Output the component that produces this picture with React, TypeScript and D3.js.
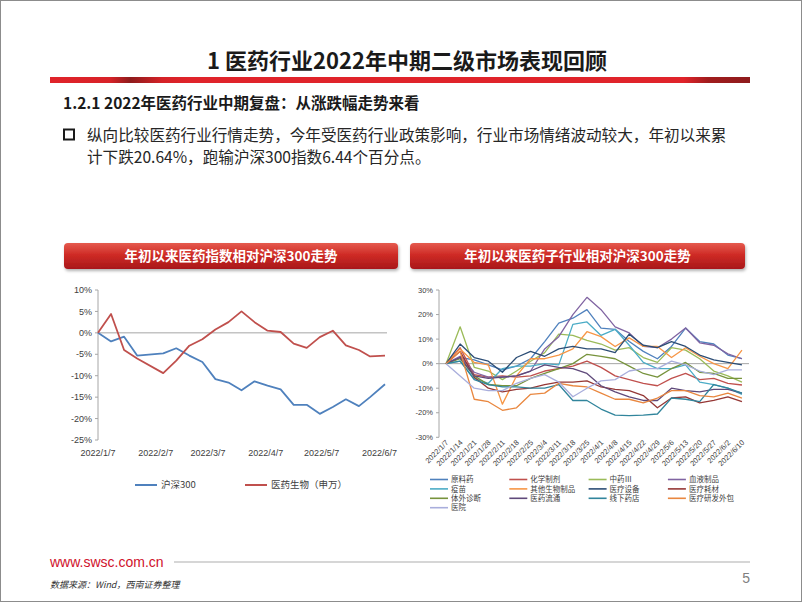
import React from "react";
import * as d3 from "d3";

// weekly dates (no 2/4 week, CNY)
const weeks = [
  "2022/1/7", "2022/1/14", "2022/1/21", "2022/1/28", "2022/2/11", "2022/2/18",
  "2022/2/25", "2022/3/4", "2022/3/11", "2022/3/18", "2022/3/25", "2022/4/1",
  "2022/4/8", "2022/4/15", "2022/4/22", "2022/4/29", "2022/5/6", "2022/5/13",
  "2022/5/20", "2022/5/27", "2022/6/2", "2022/6/10",
];
const leftTicks = ["2022/1/7", "2022/2/7", "2022/3/7", "2022/4/7", "2022/5/7", "2022/6/7"];

// left chart
const hs300 = [0, -2, -0.9, -5.3, -4.8, -3.6, -5.3, -6.8, -10.8, -11.6, -13.4, -11.3, -12.3, -13.2, -16.8, -16.8, -18.9, -17.3, -15.5, -17.1, -15, -12];
const yiyaoSW = [0, 4.4, -4, -6, -9.4, -6.5, -3, -1.5, 0.8, 2.5, 5, 2.5, 0.5, 0.2, -2.5, -3.5, -1, 0.5, -2.9, -4, -5.5, -5.3];

// right chart, sub-industries
const yuanliaoyao = [0, 2.5, 1.5, -0.5, -2.5, -1, 2, 9, 16.5, 18.5, 22, 14.5, 14, 9, 5, 2, 7, 14.5, 9, 8, 3.5, 2];
const huaxuezhiji = [0, 6.5, -4.5, -5.5, -5, -5.5, -5, -3, -2, -1, 1, -1.5, -5, -6.5, -8, -9, -6, -4, -6.5, -6, -8, -8.7];
const zhongyao = [0, 15, -1.5, -3, -6.5, -3, 1, 4.5, 12, 11.5, 9.5, 8, 5.5, 6.5, 2.5, 0.5, 6.5, 5.5, 2, -3, -5, -7.5];
const xueye = [0, 3, -3.5, -5.5, -5.5, -5, -3, 6, 11, 20, 27, 22, 15, 12.5, 7, 6.5, 10, 14.5, 8.5, 7.5, 4, 2];
const yimiao = [0, 1, -6, -8, -2, -1, -1, 0, -0.5, 16, 17, 11.5, 14, 7.5, 0.5, -2, -2, -0.5, -7.5, -8.5, -10, -12.5];
const qitashengwu = [0, 6, 0.5, -0.5, -16.5, -5, 2, 2, 3.5, 6, 13, 11, 7, 10.5, 7, 7, 2.5, 6.5, 3, 0, -2, 5.5];
const shebei = [0, 8, 2.5, 1, -3.5, 2.5, 5, 3, 6, 7, 6, 6, 4.5, 12, 7.5, 6.5, 9, 7, 3.5, 1.5, 0.5, -0.5];
const haocai = [0, 5, -5.5, -10, -11.5, -10.5, -10, -8.5, -7.5, -7.5, -7, -9.5, -10.5, -11, -13, -18, -14, -13.5, -16, -15, -13.5, -15.5];
const tiwai = [0, 2, -5, -8.5, -9, -9, -6, -4, -2, 0, 3.8, 3, 2, -1, -4, -5.5, -2, 0.5, -3.5, -4, -6, -6];
const liutong = [0, 2.5, -5, -6, -5.5, -5, -3, -0.5, -1.5, -2, -4, -9, -11.5, -13.5, -15, -15, -10, -11, -11.5, -10.5, -10.5, -12];
const yaodian = [0, 1, -6.5, -8.5, -9.5, -9.5, -10, -10, -8.5, -15, -15, -18.5, -21, -21.2, -21, -20.5, -14, -14.5, -15.5, -8.5, -10, -12];
const cxo = [0, 5, -14.5, -15.5, -19, -18, -12.5, -12, -8, -9, -9.5, -12, -14.5, -14.5, -16, -14, -11, -11, -13, -13.5, -12, -14];
const yiyuan = [0, -5, -10, -11, -11, -8, -6, -4.5, -7.5, -13.5, -10, -7, -6.5, -3, -2, -2, 1, -0.5, -3, -4.5, -2.5, -2.5];

const subNames = ["原料药", "化学制剂", "中药Ⅲ", "血液制品", "疫苗", "其他生物制品", "医疗设备", "医疗耗材", "体外诊断", "医药流通", "线下药店", "医疗研发外包", "医院"];
const subValues = [yuanliaoyao, huaxuezhiji, zhongyao, xueye, yimiao, qitashengwu, shebei, haocai, tiwai, liutong, yaodian, cxo, yiyuan];
const palette = ["#4f81bd", "#c0504d", "#9bbb59", "#8064a2", "#4bacc6", "#f79646", "#2c4d75", "#953735", "#77933c", "#5f497a", "#31859c", "#e9873f", "#a9aedc"];

const cjk = "'Noto Sans CJK SC', sans-serif";
const num = "'Liberation Sans', Arial, sans-serif";

const parseDate = (s: string) => {
  const [y, m, d] = s.split("/").map(Number);
  return new Date(y, m - 1, d);
};

function TitleBox({ x, y, w, text }: { x: number; y: number; w: number; text: string }) {
  return (
    <g>
      <rect x={x} y={y} width={w} height={26} rx={4} fill="url(#boxGrad)" filter="url(#boxShadow)" />
      <text x={x + w / 2} y={y + 17.5} textAnchor="middle" fill="#fff" fontFamily={cjk} fontWeight="bold" fontSize={13.5}>
        {text}
      </text>
    </g>
  );
}

function LeftChart() {
  const x = d3.scaleTime().domain([parseDate(weeks[0]), parseDate(weeks[weeks.length - 1])]).range([98, 385]);
  const y = d3.scaleLinear().domain([-25, 10]).range([440, 290]);
  const line = d3.line<number>().x((_, i) => x(parseDate(weeks[i]))).y((d) => y(d));
  const series = [
    { name: "沪深300", values: hs300, color: "#4f81bd" },
    { name: "医药生物（申万）", values: yiyaoSW, color: "#c0504d" },
  ];
  return (
    <g>
      <line x1={98} x2={98} y1={290} y2={440} stroke="#a6a6a6" />
      {y.ticks(7).map((t) => (
        <g key={t}>
          <line x1={95} x2={98} y1={y(t)} y2={y(t)} stroke="#a6a6a6" />
          <text x={92} y={y(t) + 3.2} textAnchor="end" fontFamily={num} fontSize={9} fill="#404040">
            {t}%
          </text>
        </g>
      ))}
      <line x1={98} x2={387} y1={y(0)} y2={y(0)} stroke="#a6a6a6" />
      {leftTicks.map((t) => (
        <text key={t} x={x(parseDate(t))} y={456} textAnchor="middle" fontFamily={num} fontSize={9} fill="#404040">
          {t}
        </text>
      ))}
      {series.map((s) => (
        <path key={s.name} d={line(s.values) || ""} fill="none" stroke={s.color} strokeWidth={1.8} strokeLinejoin="round" />
      ))}
      {series.map((s, i) => (
        <g key={s.name} transform={`translate(${135 + i * 110},485)`}>
          <line x1={0} x2={22} y1={0} y2={0} stroke={s.color} strokeWidth={2} />
          <text x={26} y={3.3} fontFamily={cjk} fontSize={9.5} fill="#404040">
            {s.name}
          </text>
        </g>
      ))}
    </g>
  );
}

function RightChart() {
  const x = d3.scalePoint<string>().domain(weeks).range([439, 749]).padding(0.5);
  const y = d3.scaleLinear().domain([-30, 30]).range([437.3, 290]);
  const line = d3.line<number>().x((_, i) => x(weeks[i]) as number).y((d) => y(d));
  return (
    <g>
      <line x1={439} x2={439} y1={290} y2={437.3} stroke="#a6a6a6" />
      {y.ticks(6).map((t) => (
        <g key={t}>
          <line x1={436} x2={439} y1={y(t)} y2={y(t)} stroke="#a6a6a6" />
          <text x={433} y={y(t) + 2.6} textAnchor="end" fontFamily={num} fontSize={7.5} fill="#404040">
            {t}%
          </text>
        </g>
      ))}
      <line x1={439} x2={749} y1={y(0)} y2={y(0)} stroke="#a6a6a6" />
      {weeks.map((w) => (
        <text
          key={w}
          transform={`translate(${(x(w) as number) + 3},443) rotate(-45)`}
          textAnchor="end"
          fontFamily={num}
          fontSize={7.5}
          fill="#404040"
        >
          {w}
        </text>
      ))}
      {subValues.map((v, i) => (
        <path key={subNames[i]} d={line(v) || ""} fill="none" stroke={palette[i]} strokeWidth={1.3} strokeLinejoin="round" />
      ))}
      {subNames.map((n, i) => (
        <g key={n} transform={`translate(${430 + (i % 4) * 79.3},${479.5 + Math.floor(i / 4) * 9.4})`}>
          <line x1={0} x2={18} y1={0} y2={0} stroke={palette[i]} strokeWidth={1.6} />
          <text x={21} y={2.7} fontFamily={cjk} fontSize={7.5} fill="#404040">
            {n}
          </text>
        </g>
      ))}
    </g>
  );
}

export default function App() {
  return (
    <svg width={802} height={602} style={{ position: "absolute", left: 0, top: 0, background: "#fff" }}>
      <defs>
        <linearGradient id="boxGrad" x1="0" y1="0" x2="0" y2="1">
          <stop offset="0" stopColor="#e55a4e" />
          <stop offset="0.45" stopColor="#cf2b25" />
          <stop offset="1" stopColor="#a8171b" />
        </linearGradient>
        <linearGradient id="barGrad" x1="0" y1="0" x2="1" y2="0">
          <stop offset="0" stopColor="#e0232a" />
          <stop offset="0.085" stopColor="#d82228" />
          <stop offset="0.115" stopColor="#8e1b1c" />
          <stop offset="0.16" stopColor="#d52227" />
          <stop offset="0.2" stopColor="#e0232a" />
          <stop offset="0.905" stopColor="#e0232a" />
          <stop offset="0.94" stopColor="#a11c1d" />
          <stop offset="1" stopColor="#8e1b1c" />
        </linearGradient>
        <filter id="boxShadow" x="-5%" y="-20%" width="110%" height="160%">
          <feDropShadow dx={1} dy={2} stdDeviation={1.5} floodColor="#000" floodOpacity={0.3} />
        </filter>
      </defs>
      <rect x={0.5} y={0.5} width={801} height={601} fill="#fff" stroke="#8c8c8c" />

      <text x={407} y={69} textAnchor="middle" fontFamily={cjk} fontWeight="bold" fontSize={22} fill="#1a1a1a">
        1 医药行业2022年中期二级市场表现回顾
      </text>
      <rect x={50} y={77} width={700} height={6} fill="url(#barGrad)" />

      <text x={63} y={108.5} fontFamily={cjk} fontWeight="bold" fontSize={15.5} fill="#1a1a1a">
        1.2.1 2022年医药行业中期复盘：从涨跌幅走势来看
      </text>
      <rect x={64} y={129.5} width={10} height={10} fill="none" stroke="#1a1a1a" strokeWidth={2} />
      <text x={87} y={141} fontFamily={cjk} fontSize={15.6} fill="#262626">
        纵向比较医药行业行情走势，今年受医药行业政策影响，行业市场情绪波动较大，年初以来累
      </text>
      <text x={87} y={163} fontFamily={cjk} fontSize={15.6} fill="#262626">
        计下跌20.64%，跑输沪深300指数6.44个百分点。
      </text>

      <TitleBox x={64} y={243} w={334} text="年初以来医药指数相对沪深300走势" />
      <TitleBox x={410} y={243} w={335} text="年初以来医药子行业相对沪深300走势" />

      <LeftChart />
      <RightChart />

      <text x={50} y={567} fontFamily={num} fontSize={14} fill="#d0112b">
        www.swsc.com.cn
      </text>
      <line x1={174} x2={750} y1={562} y2={562} stroke="#c8c8c8" strokeWidth={1.5} />
      <text x={50} y={588} fontFamily={cjk} fontStyle="italic" fontSize={9} fill="#333">
        数据来源：Wind，西南证券整理
      </text>
      <text x={750} y={583} textAnchor="end" fontFamily={num} fontSize={14} fill="#7f7f7f">
        5
      </text>
    </svg>
  );
}
